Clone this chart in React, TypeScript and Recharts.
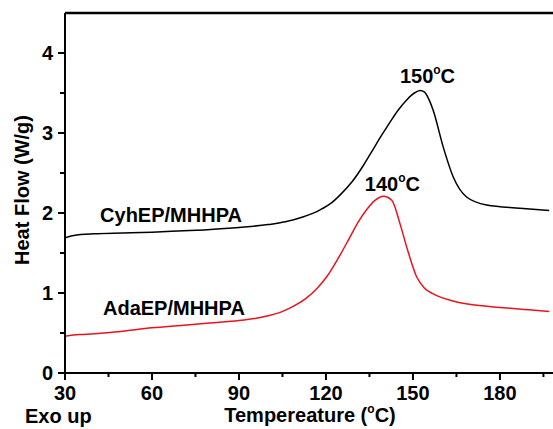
// DSC curves of the two epoxy/MHHPA systems – Recharts line chart
import React from 'react';
import { LineChart, Line, XAxis, YAxis, ReferenceLine, ReferenceDot, Label } from 'recharts';

// CyhEP/MHHPA (black curve)
const cyhTemp = [30, 33, 40, 50, 60, 73, 90, 100, 106, 112, 118, 122, 125, 129, 133, 136, 139, 142, 145, 148, 150.5, 152.5, 154, 155.5, 157, 160.4, 163.9, 168.5, 175.4, 186.9, 197];
const cyhFlow = [1.69, 1.72, 1.74, 1.75, 1.76, 1.78, 1.82, 1.855, 1.89, 1.95, 2.04, 2.13, 2.23, 2.39, 2.6, 2.78, 2.96, 3.13, 3.29, 3.42, 3.5, 3.53, 3.51, 3.42, 3.28, 2.83, 2.45, 2.2, 2.1, 2.06, 2.03];

// AdaEP/MHHPA (red curve)
const adaTemp = [30, 35, 40, 49, 60, 70, 80, 90, 96, 100, 104, 108, 113, 117, 120, 124, 128, 131, 134, 137, 139.8, 142.7, 145.5, 147.8, 151.3, 154, 157, 162.8, 170, 180, 190, 197];
const adaFlow = [0.46, 0.48, 0.49, 0.52, 0.565, 0.595, 0.625, 0.655, 0.685, 0.715, 0.755, 0.82, 0.93, 1.06, 1.19, 1.42, 1.68, 1.88, 2.04, 2.16, 2.21, 2.16, 1.87, 1.58, 1.2, 1.06, 0.99, 0.91, 0.855, 0.82, 0.79, 0.77];

const xTicks = [30, 45, 60, 75, 90, 105, 120, 135, 150, 165, 180, 195];
const xMajor = [30, 60, 90, 120, 150, 180];
const yTicks = [0, 0.5, 1, 1.5, 2, 2.5, 3, 3.5, 4];
const yMajor = [0, 1, 2, 3, 4];

const FONT = 'Arial, "Liberation Sans", sans-serif';

const cyhData = cyhTemp.map((t, i) => ({ t, v: cyhFlow[i] }));
const adaData = adaTemp.map((t, i) => ({ t, v: adaFlow[i] }));

const textStyle = { fontFamily: FONT, fontWeight: 700, fontSize: 20, fill: '#000' };

function XTick({ x, y, payload }: any) {
  const major = xMajor.includes(payload.value);
  return (
    <g>
      <line x1={x} x2={x} y1={y} y2={y + (major ? 7 : 4)} stroke="#000" strokeWidth={2} />
      {major && (
        <text x={x} y={y + 27} textAnchor="middle" {...textStyle}>
          {payload.value}
        </text>
      )}
    </g>
  );
}

function YTick({ x, y, payload }: any) {
  const major = yMajor.includes(payload.value);
  return (
    <g>
      <line x1={x} x2={x - (major ? 7 : 5)} y1={y} y2={y} stroke="#000" strokeWidth={2} />
      {major && (
        <text x={x - 12} y={y + 7} textAnchor="end" {...textStyle}>
          {payload.value}
        </text>
      )}
    </g>
  );
}

// text with a small raised "o" for the degree sign
const Deg = ({ pre, post }: { pre: string; post: string }) => (
  <>
    {pre}
    <tspan fontSize={12} dy={-9}>o</tspan>
    <tspan dy={9}>{post}</tspan>
  </>
);

const note = (content: React.ReactNode) => (p: any) => (
  <text x={p.viewBox.x} y={p.viewBox.y} textAnchor="start" {...textStyle}>
    {content}
  </text>
);

export default function App() {
  return (
    <div style={{ width: 553, height: 429 }}>
      <style>{'body{margin:0}'}</style>
      <LineChart width={553} height={429} margin={{ top: 13, right: 0, bottom: 0, left: 0 }}>
        <XAxis
          dataKey="t"
          type="number"
          domain={[30, 198.3]}
          allowDataOverflow
          ticks={xTicks}
          interval={0}
          tickSize={0}
          tickMargin={0}
          tickLine={false}
          tick={<XTick />}
          height={56}
          axisLine={{ stroke: '#000', strokeWidth: 2 }}
          label={
            <Label
              content={() => (
                <g>
                  <text x={25} y={423} {...textStyle}>Exo up</text>
                  <text x={310} y={422} textAnchor="middle" {...textStyle}>
                    <Deg pre="Tempereature (" post="C)" />
                  </text>
                </g>
              )}
            />
          }
        />
        <YAxis
          type="number"
          domain={[0, 4.5]}
          allowDataOverflow
          ticks={yTicks}
          interval={0}
          tickSize={0}
          tickMargin={0}
          tickLine={false}
          tick={<YTick />}
          width={65}
          axisLine={{ stroke: '#000', strokeWidth: 2 }}
          label={
            <Label
              content={() => (
                <text
                  x={22}
                  y={190}
                  textAnchor="middle"
                  dominantBaseline="central"
                  transform="rotate(-90, 22, 190)"
                  {...textStyle}
                >
                  Heat Flow (W/g)
                </text>
              )}
            />
          }
        />
        <ReferenceLine y={4.5} stroke="#000" strokeWidth={2.5} ifOverflow="visible" />
        <Line data={cyhData} dataKey="v" type="monotone" stroke="#000" strokeWidth={1.5} dot={false} isAnimationActive={false} />
        <Line data={adaData} dataKey="v" type="monotone" stroke="#e8141c" strokeWidth={1.5} dot={false} isAnimationActive={false} />
        <ReferenceDot x={42.1} y={1.89} r={0} fill="none" stroke="none" label={<Label content={note('CyhEP/MHHPA')} />} />
        <ReferenceDot x={43.1} y={0.73} r={0} fill="none" stroke="none" label={<Label content={note('AdaEP/MHHPA')} />} />
        <ReferenceDot x={145.5} y={3.62} r={0} fill="none" stroke="none" label={<Label content={note(<Deg pre="150" post="C" />)} />} />
        <ReferenceDot x={133.4} y={2.28} r={0} fill="none" stroke="none" label={<Label content={note(<Deg pre="140" post="C" />)} />} />
      </LineChart>
    </div>
  );
}
